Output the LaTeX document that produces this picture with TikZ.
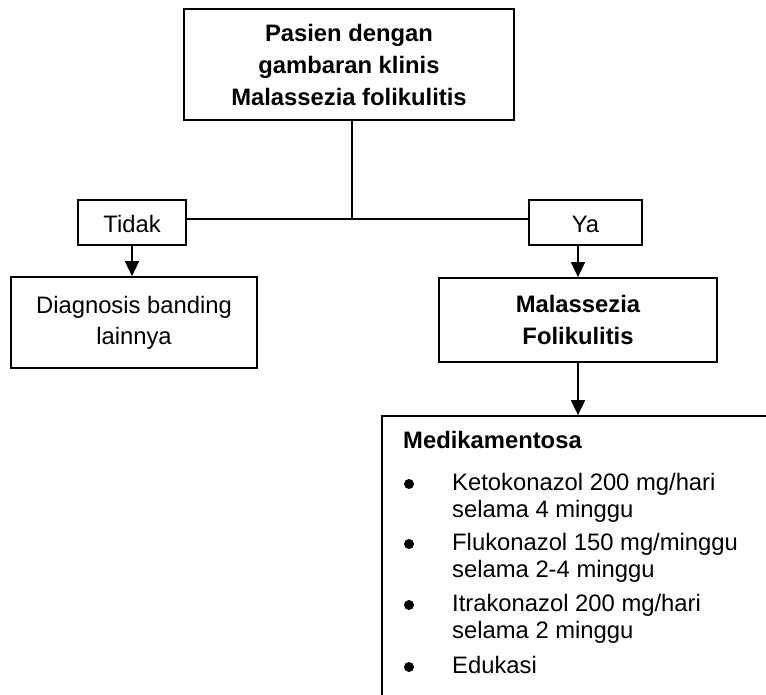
\documentclass[tikz,border=0pt]{standalone}
\usepackage{fontspec}
\setmainfont{Liberation Sans}
\usetikzlibrary{arrows.meta}
\begin{document}
\begin{tikzpicture}[x=1pt, y=-1pt,
  every node/.style={font=\fontsize{23.8}{31}\selectfont},
  box/.style={draw, line width=1.7pt, rectangle, inner sep=0pt, align=center},
  boldbox/.style={box, font=\fontsize{23.8}{32}\selectfont\bfseries},
  link/.style={line width=1.7pt},
  arrow/.style={link, -{Triangle[length=15pt, width=14pt]}},
  itemtext/.style={anchor=base west, inner sep=0pt},
  dot/.style={circle, fill, inner sep=0pt, minimum size=10pt}
]
\useasboundingbox (0,0) rectangle (766,695);

% decision tree boxes
\node[boldbox, minimum width=330pt, minimum height=111pt] (top) at (349,64.5)
  {Pasien dengan\\gambaran klinis\\Malassezia folikulitis};
\node[box, minimum width=108pt, minimum height=45pt, text height=21pt, text depth=0pt] (tidak) at (132,222.5) {Tidak};
\node[box, minimum width=113pt, minimum height=45pt, text height=21pt, text depth=0pt] (ya) at (585.5,222.5) {Ya};
\node[box, minimum width=246pt, minimum height=91pt] (diag) at (134,322.5)
  {Diagnosis banding\\lainnya};
\node[boldbox, minimum width=278pt, minimum height=84pt] (mal) at (578,320)
  {Malassezia\\Folikulitis};
% treatment box runs off the page at the right and bottom
\node[box, minimum width=418pt, minimum height=304pt] (med) at (591,568) {};

% connectors
\coordinate (junc) at (352,219);
\draw[link] (top.south -| junc) -- (junc);
\draw[link] (tidak.east |- junc) -- (ya.west |- junc);
\draw[arrow] (tidak.south) -- (tidak.south |- diag.north);
\draw[arrow] (mal.north |- ya.south) -- (mal.north);
\draw[arrow] (mal.south) -- (mal.south |- med.north);

% treatment list
\node[itemtext, font=\fontsize{23.8}{27}\selectfont\bfseries] (medtitle) at (403,448) {Medikamentosa};
\node[dot] (d1) at (409,484) {};
\node[itemtext] (k1) at (452,490) {Ketokonazol 200 mg/hari};
\node[itemtext] (k2) at (452,517) {selama 4 minggu};
\node[dot] (d2) at (409,544) {};
\node[itemtext] (f1) at (452,550) {Flukonazol 150 mg/minggu};
\node[itemtext] (f2) at (452,577) {selama 2-4 minggu};
\node[dot] (d3) at (409,605) {};
\node[itemtext] (i1) at (452,611) {Itrakonazol 200 mg/hari};
\node[itemtext] (i2) at (452,638) {selama 2 minggu};
\node[dot] (d4) at (409,667) {};
\node[itemtext] (e1) at (452,673) {Edukasi};
\end{tikzpicture}
\end{document}
